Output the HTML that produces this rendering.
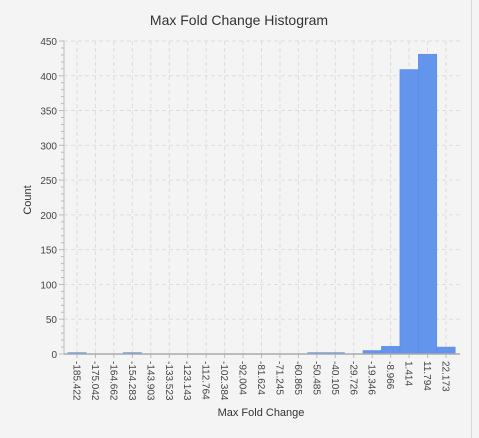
<!DOCTYPE html>
<html><head><meta charset="utf-8"><style>
body{margin:0;background:#f4f4f4;}
svg{display:block;font-family:"Liberation Sans",sans-serif;}
</style></head><body>
<svg id="c" width="479" height="438">
<rect x="0" y="0" width="479" height="438" fill="#f4f4f4"/>
<line x1="471.5" y1="0" x2="471.5" y2="438" stroke="#d8d8d8"/>
<text x="239" y="25" text-anchor="middle" font-size="14" fill="#333">Max Fold Change Histogram</text>
<text transform="translate(31,200) rotate(-90)" text-anchor="middle" font-size="11" fill="#333">Count</text>
<text x="261" y="416" text-anchor="middle" font-size="11" fill="#333">Max Fold Change</text>
<g id="g"></g>
</svg>
<script>
const categories=["-185.422","-175.042","-164.662","-154.283","-143.903","-133.523","-123.143","-112.764","-102.384","-92.004","-81.624","-71.245","-60.865","-50.485","-40.105","-29.726","-19.346","-8.966","1.414","11.794","22.173"];
const counts=[2,0,0,2,0,0,0,0,0,0,0,0,0,2,2,0,5,11,409,431,10];
const yTicks=[0,50,100,150,200,250,300,350,400,450];
const L=64,R=460,T=41,B=354,yMax=450;
const step=(446-77)/(categories.length-1);
const x0=77;
const xs=i=>x0+i*step;
const ys=v=>B-(v/yMax)*(B-T);
const g=document.getElementById('g');
const NS='http://www.w3.org/2000/svg';
function mk(t,a){const e=document.createElementNS(NS,t);for(const k in a)e.setAttribute(k,a[k]);g.appendChild(e);return e;}
yTicks.forEach(v=>{
 if(v>0){const l=mk('line',{x1:L,x2:R,y1:ys(v),y2:ys(v),stroke:'#dddddd','stroke-dasharray':'4,3'});
 
 }
 const t=mk('text',{x:L-7,y:ys(v)+4,'text-anchor':'end','font-size':'10',fill:'#444'});t.textContent=v;
 
 
});
for(let v=0;v<=yMax;v+=10){const tk=mk('line',{x1:v%50===0?L-5:L-3,x2:L,y1:ys(v),y2:ys(v),stroke:'#bbb'});
 
 }
categories.forEach((c,i)=>{
 const x=xs(i);
 const gl=mk('line',{x1:x,x2:x,y1:T,y2:B,stroke:'#dddddd','stroke-dasharray':'4,3'});
 
 
});
counts.forEach((v,i)=>{
 if(v<=0)return;
 const x=xs(i)-step/2;
 const b=mk('rect',{x:x,y:ys(v),width:step,height:B-ys(v),fill:'#6495ed',stroke:'#5a88dd','stroke-width':'0.5'});
 
 
});
categories.forEach((c,i)=>{
 const x=xs(i);
 const tk=mk('line',{x1:x,x2:x,y1:B,y2:B+4,stroke:'#bbb'});
 
 
 const t=mk('text',{transform:`translate(${x-3.5},${B+7}) rotate(90)`,'font-size':'10',fill:'#444'});t.textContent=c;
 
 
});
const ya=mk('line',{x1:L,x2:L,y1:T,y2:B,stroke:'#bbb'});


const xa=mk('line',{x1:L,x2:R,y1:B,y2:B,stroke:'#aaa','stroke-width':'1.5'});


</script>
</body></html>
